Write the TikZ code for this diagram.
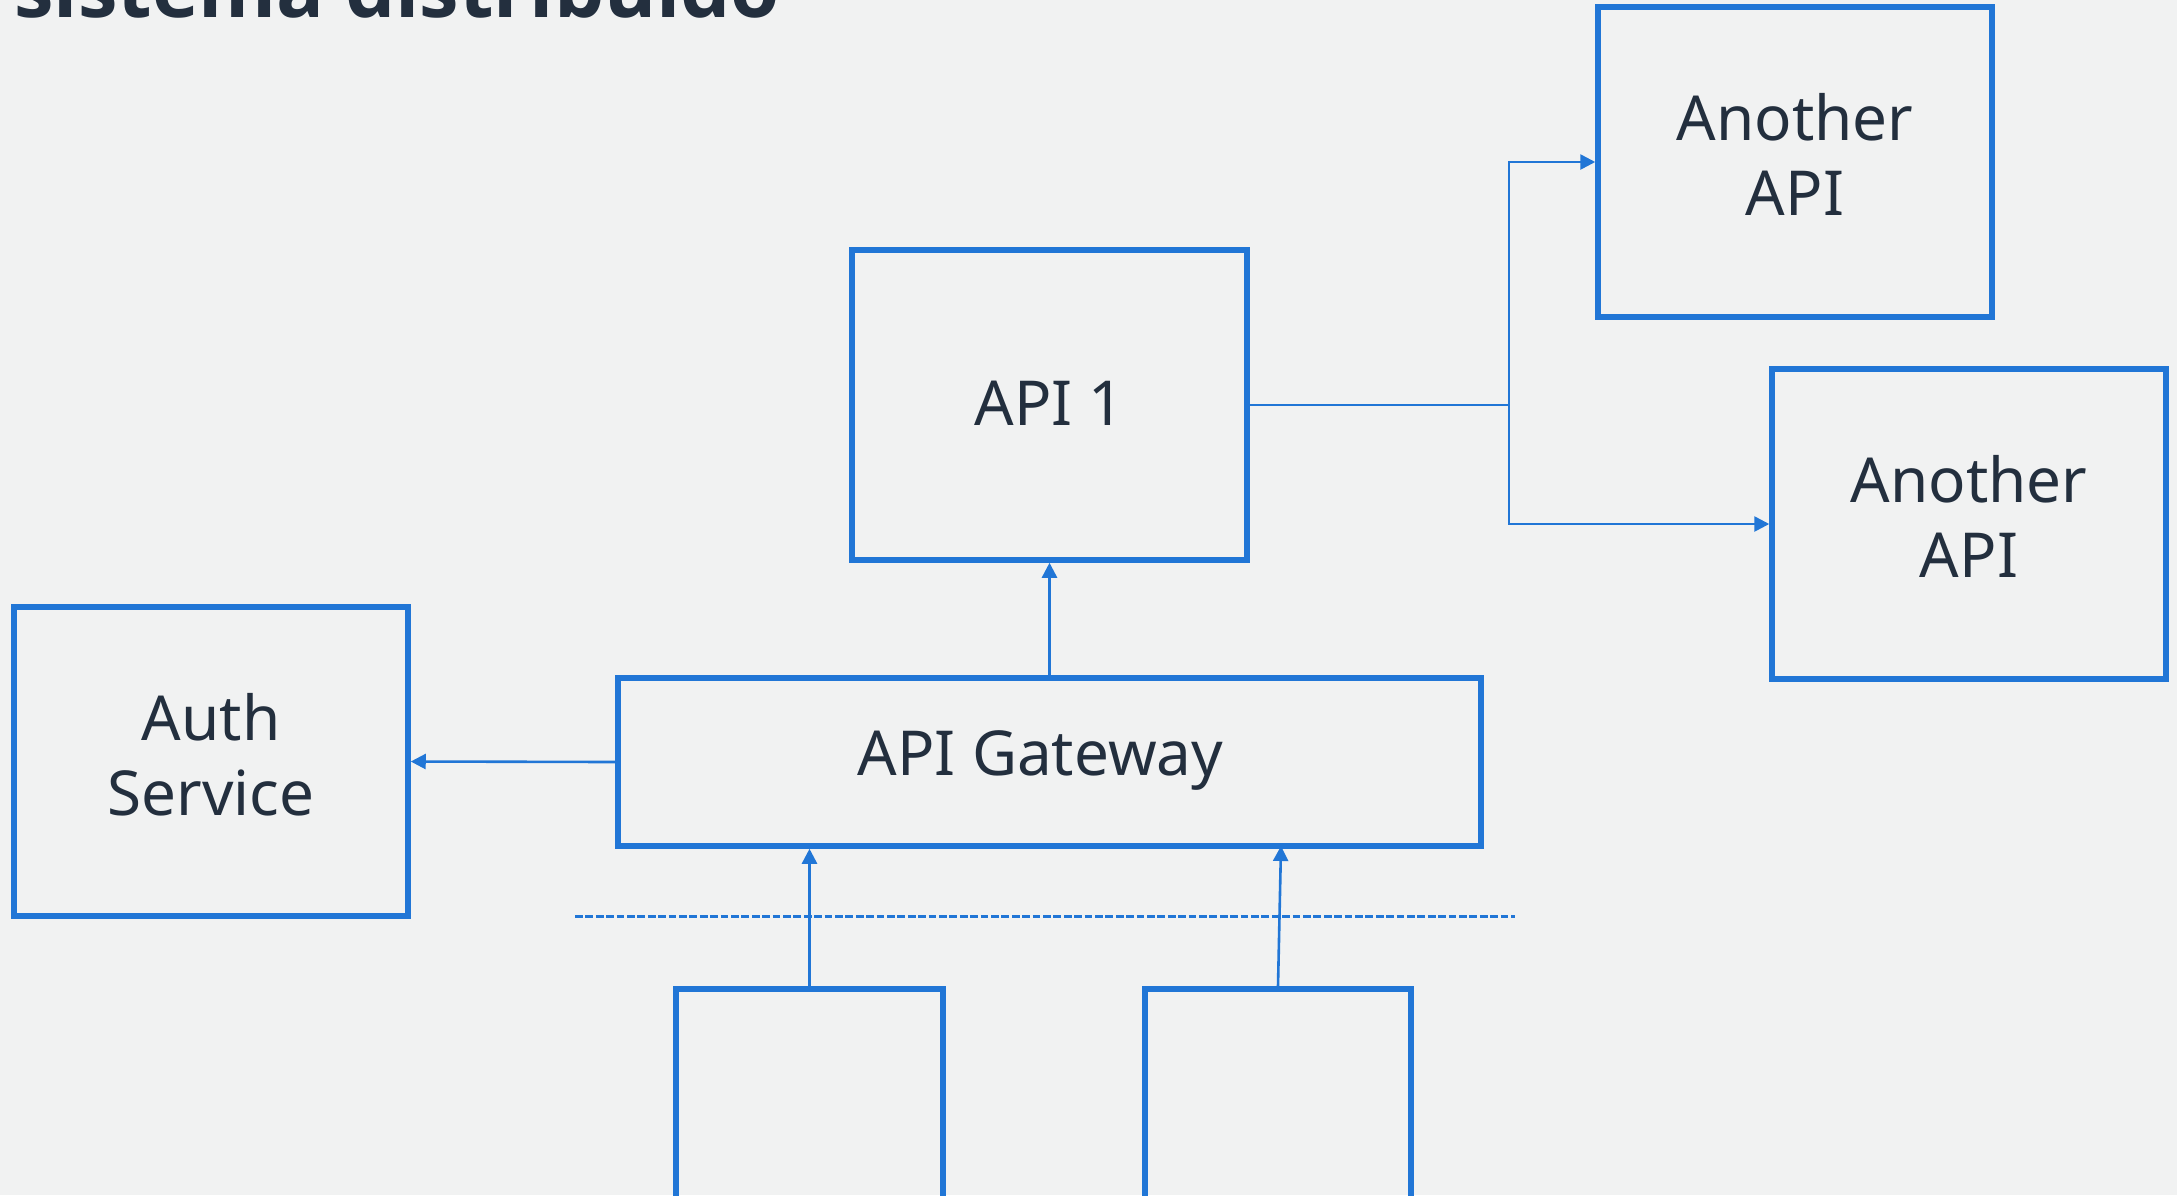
\documentclass[tikz,border=0pt]{standalone}
\usepackage{fontspec}
\setmainfont{Noto Sans}
\newfontfamily\headingfont{Open Sans}
\usetikzlibrary{arrows.meta}
\definecolor{bg}{HTML}{F1F2F2}
\definecolor{edge}{HTML}{2176D6}
\definecolor{ink}{HTML}{232F3E}
\tikzset{
  box/.style={draw=edge, line width=2.75pt, rectangle, inner sep=0pt},
  caption/.style={text=ink, align=center, inner sep=0pt,
    font=\fontsize{31}{37.5}\selectfont},
  conn/.style={draw=edge, line width=1.3pt, -{Triangle[length=7.5pt,width=7.5pt]}},
  plain/.style={draw=edge, line width=1.3pt},
  divider/.style={draw=edge, line width=1.5pt, dash pattern=on 3.9pt off 1.3pt},
}
\begin{document}
\begin{tikzpicture}[x=0.5pt,y=-0.5pt]
  \fill[bg] (0,0) rectangle (2177,1195);
  \useasboundingbox (0,0) rectangle (2177,1195);
  \clip (0,0) rectangle (2177,1195);

  % title
  \node[anchor=base west, inner sep=0pt, text=ink, font=\fontsize{39.7}{44}\headingfont\bfseries]
    (title) at (14,17) {sistema distribuído};

  % services
  \node[box, minimum width=197pt, minimum height=155pt] (other1) at (1795,162) {};
  \node[box, minimum width=197.5pt, minimum height=155pt] (api1) at (1049.5,405) {};
  \node[box, minimum width=197pt, minimum height=155pt] (other2) at (1969,524) {};
  \node[box, minimum width=197pt, minimum height=154.5pt] (auth) at (211,761.5) {};
  \node[box, minimum width=431.5pt, minimum height=84pt] (gateway) at (1049.5,762) {};

  \node[caption] (other1-text) at ([yshift=4pt]other1.center) {Another\\API};
  \node[caption] (api1-text) at ([yshift=1pt]api1.center) {API 1};
  \node[caption] (other2-text) at ([yshift=4pt]other2.center) {Another\\API};
  \node[caption] (auth-text) at ([yshift=3.5pt]auth.center) {Auth\\Service};
  \node[caption] (gateway-text) at ([xshift=-4.5pt,yshift=1pt]gateway.center) {API Gateway};

  % clients below the boundary
  \node[box, minimum width=133.5pt, minimum height=150pt, anchor=north] (client1) at (809.5,986) {};
  \node[box, minimum width=133pt, minimum height=150pt, anchor=north] (client2) at (1278,986) {};

  % boundary line
  \coordinate (divL) at (575,916);
  \coordinate (divR) at (1515,916);
  \draw[divider] (divL) -- (divR);

  % fan-out from API 1
  \coordinate (split) at (1509,405);
  \draw[plain] (api1.east) -- (split);
  \draw[conn] (split) |- (other1.west);
  \draw[conn] (split) |- (other2.west);

  % gateway routes
  \coordinate (gw-in2) at (1281,846);
  \draw[conn] (gateway.north) -- (api1.south);
  \draw[conn] (gateway.west) -- (auth.east);
  \draw[conn] (client1.north) -- (client1.north |- gateway.south);
  \draw[conn] (client2.north) -- (gw-in2);
\end{tikzpicture}
\end{document}
